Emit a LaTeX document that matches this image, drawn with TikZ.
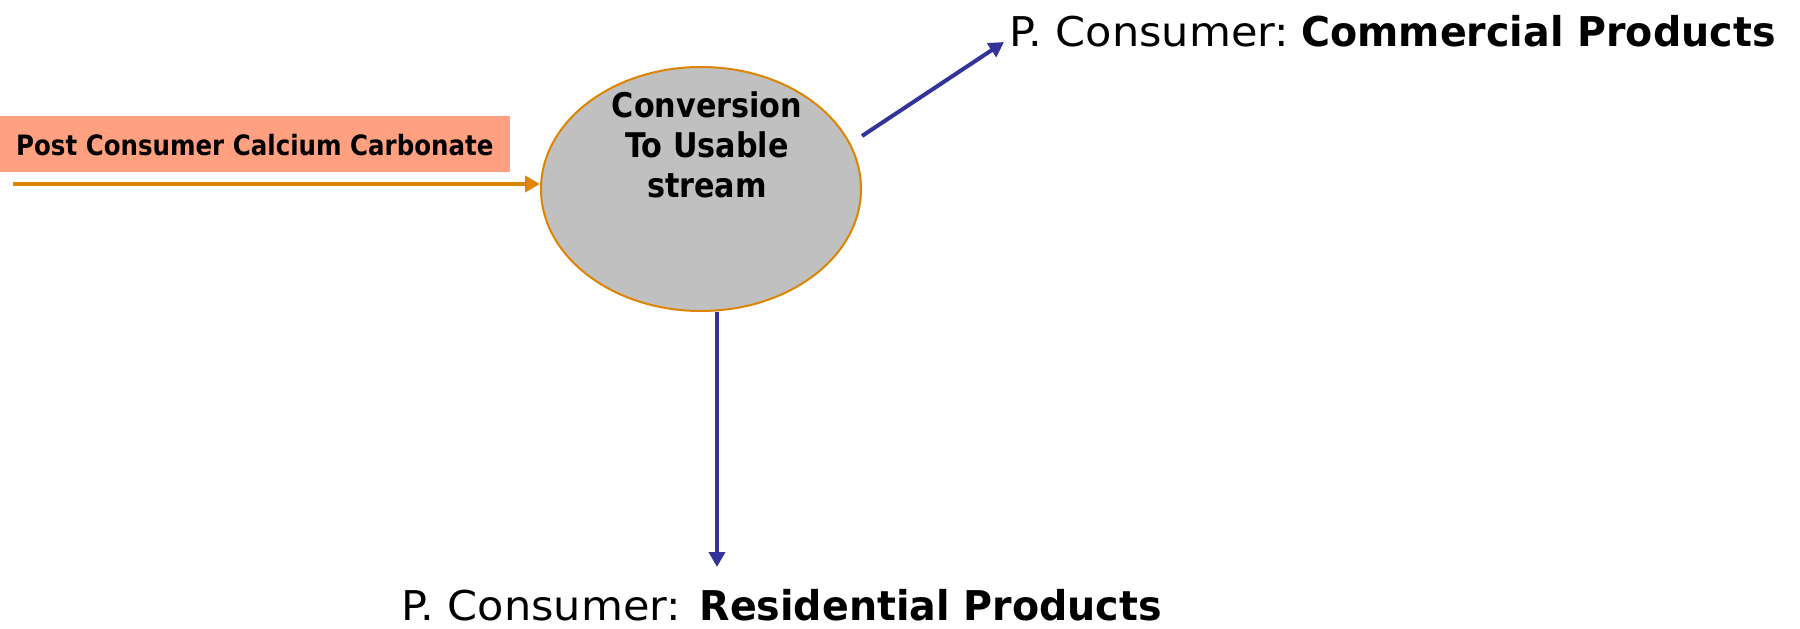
\documentclass[tikz,border=0pt]{standalone}
\usepackage{fontspec}
\setmainfont{DejaVu Sans}
\newfontfamily\boxfont{DejaVu Sans}[FakeStretch=0.875]
\newfontfamily\convfont{DejaVu Sans}[FakeStretch=0.89]
\newfontfamily\outfont{DejaVu Sans}[FakeStretch=1.05, BoldFeatures={FakeStretch=0.965}]
\usetikzlibrary{arrows.meta,shapes.geometric}
\definecolor{boxsalmon}{HTML}{FFA080}
\definecolor{flowor}{HTML}{DF8400}
\definecolor{flowblue}{HTML}{333399}
\definecolor{convgray}{HTML}{C0C0C0}
\tikzset{
  orarrow/.style={draw=flowor, line width=4pt, -{Triangle[length=15pt,width=16pt]}},
  bluearrow/.style={draw=flowblue, line width=4pt, -{Triangle[length=15pt,width=16pt]}},
  bigtext/.style={inner sep=0pt, font=\outfont\fontsize{41}{49}\selectfont},
}
\begin{document}
\begin{tikzpicture}[x=1pt,y=-1pt]
\useasboundingbox (0,0) rectangle (1800,629);
\fill[white] (0,0) rectangle (1800,629);
% input box
\node[fill=boxsalmon, minimum width=510pt, minimum height=56pt, anchor=north west, inner sep=0pt] (inbox) at (0,116) {};
\node[anchor=west, inner sep=0pt, font=\boxfont\fontsize{28}{34}\selectfont\bfseries] (intext) at (16,145) {Post Consumer Calcium Carbonate};
% conversion ellipse
\node[ellipse, draw=flowor, line width=2pt, fill=convgray, minimum width=320pt, minimum height=244pt, inner sep=0pt] (conv) at (701,189) {};
\node[align=center, inner sep=0pt, font=\convfont\fontsize{34}{40}\selectfont\bfseries] (convtext) at (707,145) {Conversion\\To Usable\hspace{0.3em}\\stream};
% outputs
\node[bigtext, anchor=base west] (comm) at (1009,46) {P. Consumer:\hspace{0.3em}\textbf{Commercial Products}};
\node[bigtext, anchor=base west] (res) at (401,620) {P. Consumer:\hspace{0.45em}\textbf{Residential Products}};
% connectors
\coordinate (instart) at (13,184);
\draw[orarrow] (instart) -- (instart -| conv.west);
\draw[bluearrow] ([yshift=53pt]conv.east) -- ([xshift=-5pt,yshift=4pt]comm.base west);
\coordinate (restip) at (717,567);
\draw[bluearrow] ([xshift=16pt]conv.south) -- (restip);
\end{tikzpicture}
\end{document}
